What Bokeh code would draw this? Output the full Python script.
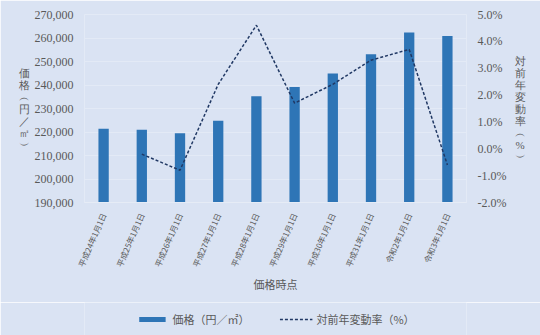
from bokeh.plotting import figure
from bokeh.models import (ColumnDataSource, Range1d, LinearAxis, NumeralTickFormatter,
                          SingleIntervalTicker, Legend, LegendItem, FactorRange)
from bokeh.layouts import column
from bokeh.embed import file_html
from bokeh.resources import INLINE

dates = ["平成24年1月1日", "平成25年1月1日", "平成26年1月1日", "平成27年1月1日",
         "平成28年1月1日", "平成29年1月1日", "平成30年1月1日", "平成31年1月1日",
         "令和2年1月1日", "令和3年1月1日"]
price = [221400, 221000, 219500, 224800, 235200, 239100, 244900, 253100, 262300, 260800]
rate_pct = [float("nan"), -0.2, -0.8, 2.4, 4.6, 1.7, 2.4, 3.3, 3.7, -0.6]

bar_label = "価格（円／㎡）"
line_label = "対前年変動率（%）"
x_title = "価格時点"

BG = "#dae3f3"
TXT = "#595959"
BAR = "#2e75b6"
LINE = "#203864"
CJK = "Noto Sans CJK JP"
NUM = "Liberation Serif"

src = ColumnDataSource(dict(x=dates, price=price, rate=[r / 100 for r in rate_pct]))

p = figure(frame_width=382, frame_height=188, x_range=FactorRange(*dates), y_range=Range1d(190000, 270000),
           output_backend="svg", toolbar_location=None,
           min_border_left=84, min_border_right=74, min_border_top=14, min_border_bottom=100)
p.background_fill_color = BG
p.border_fill_color = BG
p.outline_line_color = None
p.extra_y_ranges = {"pct": Range1d(-0.02, 0.05)}

bars = p.vbar(x="x", top="price", bottom=190000, width=0.27, source=src,
              fill_color=BAR, line_color=None)
ln = p.line(x="x", y="rate", source=src, y_range_name="pct",
            line_color=LINE, line_width=1.5, line_dash="3 2")

# left axis
ax = p.yaxis[0]
ax.ticker = SingleIntervalTicker(interval=10000)
ax.formatter = NumeralTickFormatter(format="0,0")
ax.axis_line_color = None
ax.major_tick_line_color = None
ax.minor_tick_line_color = None
ax.major_label_text_font = NUM
ax.major_label_text_font_size = "12px"
ax.major_label_text_color = TXT
ax.axis_label = "\n".join(["価", "格", "︵", "円", "／", "㎡", "︶"])
ax.axis_label_orientation = "horizontal"
ax.axis_label_text_font = "Liberation Serif"
ax.axis_label_text_font_size = "11px"
ax.axis_label_text_line_height = 1.0
ax.axis_label_text_font_style = "normal"
ax.axis_label_text_color = TXT
ax.axis_label_standoff = 2

# right axis
rax = LinearAxis(y_range_name="pct", ticker=SingleIntervalTicker(interval=0.01),
                 formatter=NumeralTickFormatter(format="0.0%"))
rax.axis_line_color = None
rax.major_tick_line_color = None
rax.minor_tick_line_color = None
rax.major_label_text_font = NUM
rax.major_label_text_font_size = "12px"
rax.major_label_text_color = TXT
rax.axis_label = "\n".join(["対", "前", "年", "変", "動", "率", "︵", "%", "︶"])
rax.axis_label_orientation = "horizontal"
rax.axis_label_text_font = "Liberation Serif"
rax.axis_label_text_font_size = "11px"
rax.axis_label_text_line_height = 1.0
rax.axis_label_text_font_style = "normal"
rax.axis_label_text_color = TXT
rax.axis_label_standoff = 6
p.add_layout(rax, "right")

# x axis
xa = p.xaxis[0]
xa.axis_line_color = "#e6ecf6"
xa.major_tick_line_color = None
xa.minor_tick_line_color = None
xa.major_label_orientation = 1.16
xa.major_label_text_font = CJK
xa.major_label_text_font_size = "8px"
xa.major_label_text_color = TXT
xa.axis_label = x_title
xa.axis_label_text_font = CJK
xa.axis_label_text_font_size = "11px"
xa.axis_label_text_font_style = "normal"
xa.axis_label_text_color = TXT
xa.axis_label_standoff = 2

p.xgrid.grid_line_color = None
p.ygrid.grid_line_color = "#e3eaf6"
p.ygrid.ticker = SingleIntervalTicker(interval=10000)

# legend strip (separate figure so the legend is not clipped);
# its sample glyphs sit outside the strip's visible ranges
lf = figure(width=540, height=33, x_range=Range1d(0, 1), y_range=Range1d(0, 1),
            output_backend="svg", toolbar_location=None,
            x_axis_location=None, y_axis_location=None, min_border=0)
lf.background_fill_color = BG
lf.border_fill_color = BG
lf.outline_line_color = None
lf.grid.visible = False
lb = lf.vbar(x=[-5], top=[-5], bottom=-6, width=0.1, fill_color=BAR, line_color=None)
ll = lf.line(x=[-5, -4], y=[-5, -5], line_color=LINE, line_width=1.5, line_dash="3 2")
legend = Legend(items=[LegendItem(label=bar_label, renderers=[lb]),
                       LegendItem(label=line_label, renderers=[ll])],
                orientation="horizontal", location="center",
                background_fill_alpha=0, border_line_color=None,
                label_text_font=CJK, label_text_font_size="11px", label_text_color=TXT,
                glyph_width=33, glyph_height=6, label_height=14, spacing=30, margin=0, padding=0,
                label_standoff=4)
lf.add_layout(legend, "center")

open("out.html", "w").write(file_html(column(p, lf, spacing=0), INLINE))
